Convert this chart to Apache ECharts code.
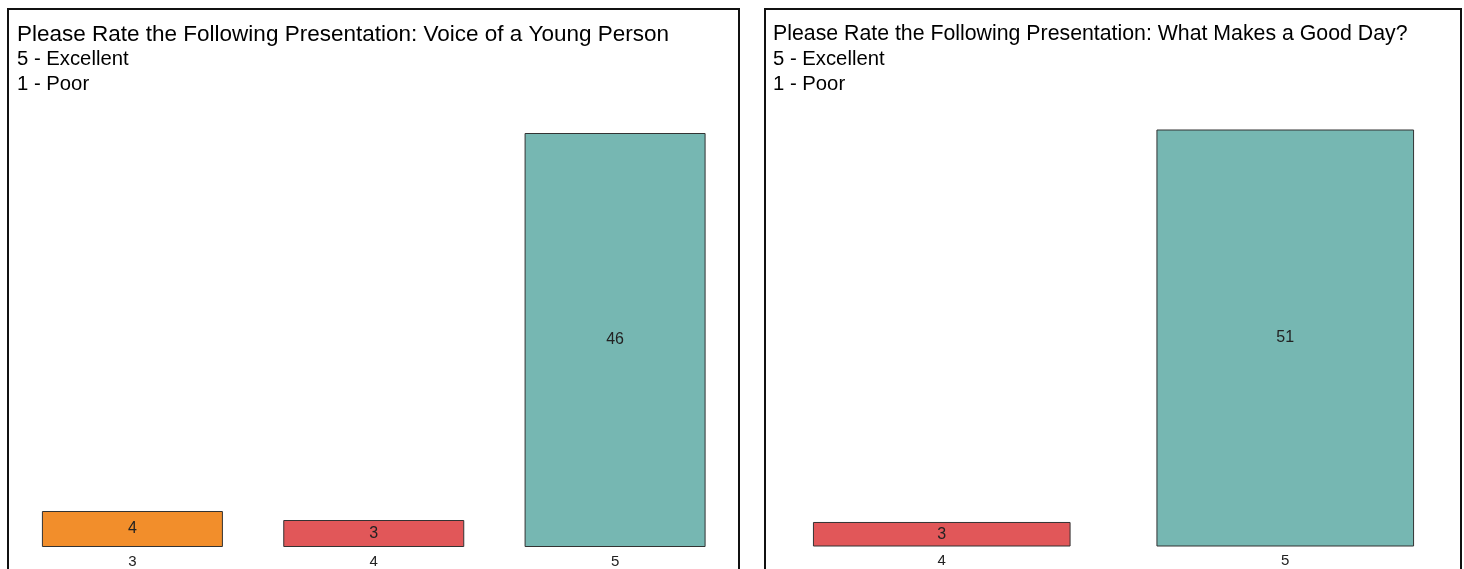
<!DOCTYPE html>
<html>
<head>
<meta charset="utf-8">
<script src="https://cdn.jsdelivr.net/npm/echarts@6/dist/echarts.min.js"></script>
<style>
html,body{margin:0;padding:0;background:#fff;}
#chart{width:1464px;height:569px;}
</style>
</head>
<body>
<div id="chart"></div>
<script>
// Data
const leftTitleLines = ["Please Rate the Following Presentation: Voice of a Young Person", "5 - Excellent", "1 - Poor"];
const rightTitleLines = ["Please Rate the Following Presentation: What Makes a Good Day?", "5 - Excellent", "1 - Poor"];
const leftCategories = ["3", "4", "5"];
const leftValues = [4, 3, 46];
const rightCategories = ["4", "5"];
const rightValues = [3, 51];
const ratingColors = {"3": "#F28E2B", "4": "#E15759", "5": "#76B7B2"};

const FONT = "'Liberation Sans', Arial, sans-serif";

function makeData(cats, vals) {
  return vals.map((v, i) => ({
    value: v,
    itemStyle: { color: ratingColors[cats[i]] }
  }));
}

const chart = echarts.init(document.getElementById('chart'), null, {renderer: 'canvas'});

function titleItems(lines, left, firstSize) {
  return lines.map((t, i) => ({
    text: t, left: left, top: 22 + i * 25, padding: 0,
    textStyle: { fontSize: i === 0 ? firstSize : 20.3, fontWeight: 'normal', color: '#000', fontFamily: FONT, lineHeight: 25 }
  }));
}

const option = {
  backgroundColor: '#fff',
  animation: false,
  title: titleItems(leftTitleLines, 17, 22.5).concat(titleItems(rightTitleLines, 773, 21.3)),
  graphic: [
    { type: 'rect', shape: { x: 8, y: 9, width: 731, height: 620 }, style: { fill: 'none', stroke: '#111', lineWidth: 2 }, z: 100 },
    { type: 'rect', shape: { x: 765, y: 9, width: 696, height: 620 }, style: { fill: 'none', stroke: '#111', lineWidth: 2 }, z: 100 }
  ],
  grid: [
    { left: 11.75, right: 1464 - 735.75, top: 133, bottom: 22, containLabel: false },
    { left: 770, right: 1464 - 1457, top: 129.5, bottom: 22.5, containLabel: false }
  ],
  xAxis: [
    { type: 'category', gridIndex: 0, data: leftCategories,
      axisLine: { show: false }, axisTick: { show: false },
      axisLabel: { color: '#222', fontSize: 15, fontFamily: FONT, margin: 7 } },
    { type: 'category', gridIndex: 1, data: rightCategories,
      axisLine: { show: false }, axisTick: { show: false },
      axisLabel: { color: '#222', fontSize: 15, fontFamily: FONT, margin: 7 } }
  ],
  yAxis: [
    { type: 'value', gridIndex: 0, min: 0, max: Math.max(...leftValues), show: false, splitLine: { show: false } },
    { type: 'value', gridIndex: 1, min: 0, max: Math.max(...rightValues), show: false, splitLine: { show: false } }
  ],
  series: [
    { type: 'bar', xAxisIndex: 0, yAxisIndex: 0, data: makeData(leftCategories, leftValues),
      barCategoryGap: '25%',
      itemStyle: { borderColor: '#333', borderWidth: 1 },
      label: { show: true, position: 'inside', color: '#222', fontSize: 16, fontFamily: FONT } },
    { type: 'bar', xAxisIndex: 1, yAxisIndex: 1, data: makeData(rightCategories, rightValues),
      barCategoryGap: '25%',
      itemStyle: { borderColor: '#333', borderWidth: 1 },
      label: { show: true, position: 'inside', color: '#222', fontSize: 16, fontFamily: FONT } }
  ]
};
chart.setOption(option);
</script>
</body>
</html>
